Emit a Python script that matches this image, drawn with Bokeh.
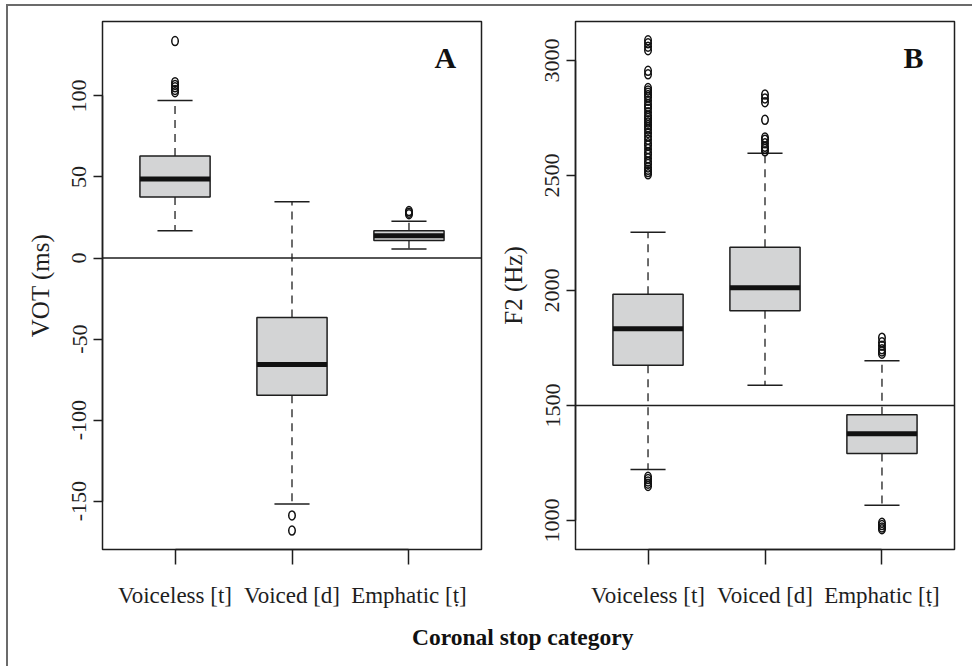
import numpy as np
from bokeh.plotting import figure
from bokeh.models import Range1d, FixedTicker, Span, Label, Div
from bokeh.layouts import row, column
from bokeh.embed import file_html
from bokeh.resources import INLINE

# ---------------- data ----------------
categories = ["Voiceless [t]", "Voiced [d]", "Emphatic [\u1e6d]"]

# Panel A: VOT (ms)
vot_lower_whisker = [16.8, -151.8, 5.6]
vot_q1 = [37.6, -84.7, 10.8]
vot_median = [48.7, -65.7, 13.7]
vot_q3 = [62.9, -36.7, 16.8]
vot_upper_whisker = [97.1, 34.7, 22.7]
vot_outliers = [
    [102.3, 103.7, 105.3, 106.8, 108.5, 133.8],
    [-158.8, -168.1],
    [27.0, 28.0, 29.0],
]
vot_ticks = [-150, -100, -50, 0, 50, 100]
vot_reference = 0

# Panel B: F2 (Hz)
f2_lower_whisker = [1221.7, 1588.0, 1066.5]
f2_q1 = [1675.0, 1911.7, 1291.0]
f2_median = [1833.5, 2011.7, 1377.0]
f2_q3 = [1984.0, 2188.0, 1459.6]
f2_upper_whisker = [2253.6, 2597.0, 1694.3]
f2_outliers = [
    [1150, 1160, 1170, 1180, 1190,
     2505, 2515, 2525, 2535, 2550, 2560, 2575, 2590, 2600, 2615, 2630, 2640,
     2655, 2670, 2685, 2700, 2710, 2720, 2730, 2740, 2750, 2760, 2775, 2790,
     2800, 2810, 2825, 2840, 2850, 2860, 2870, 2880, 2940, 2955,
     3045, 3060, 3075, 3088],
    [2605, 2615, 2625, 2640, 2655, 2665, 2742, 2819, 2835, 2852],
    [962, 970, 980, 990, 1725, 1735, 1745, 1760, 1775, 1795],
]
f2_ticks = [1000, 1500, 2000, 2500, 3000]
f2_reference = 1500

SERIF = "Liberation Serif"
INK = "#1e1e1e"


def make_panel(lo, q1, med, q3, hi, outliers, ticks, yrange, ref, ylabel,
               letter, letter_pos, width, border_left, border_right):
    pos = np.arange(1, len(categories) + 1, dtype=float)
    p = figure(width=width, height=614, output_backend="svg", toolbar_location=None,
               x_range=Range1d(0.38, 3.62), y_range=Range1d(*yrange),
               min_border_left=border_left, min_border_right=border_right,
               min_border_top=15, min_border_bottom=71)
    p.grid.visible = False
    p.outline_line_color = INK
    p.outline_line_width = 1.5
    p.background_fill_color = "white"
    p.border_fill_color = "white"

    half = 0.3
    # whiskers
    p.segment(x0=pos, x1=pos, y0=q3, y1=hi, line_color=INK, line_width=1.3, line_dash="8 6")
    p.segment(x0=pos, x1=pos, y0=q1, y1=lo, line_color=INK, line_width=1.3, line_dash="8 6")
    # staples
    p.segment(x0=pos - half / 2, x1=pos + half / 2, y0=hi, y1=hi, line_color=INK, line_width=1.5)
    p.segment(x0=pos - half / 2, x1=pos + half / 2, y0=lo, y1=lo, line_color=INK, line_width=1.5)
    # boxes
    p.quad(left=pos - half, right=pos + half, bottom=q1, top=q3,
           fill_color="#d3d4d5", line_color=INK, line_width=1.5)
    # medians
    p.segment(x0=pos - half, x1=pos + half, y0=med, y1=med, line_color="#111111", line_width=5)
    # outliers
    ox, oy = [], []
    for i, vals in enumerate(outliers):
        ox += [pos[i]] * len(vals)
        oy += list(vals)
    p.ellipse(x=ox, y=oy, width=6.5, height=9, width_units="screen", height_units="screen",
              fill_color=None, line_color="#111111", line_width=1.5)
    # reference line
    p.add_layout(Span(location=ref, dimension="width", line_color=INK, line_width=1.5))

    # axes
    p.xaxis.ticker = FixedTicker(ticks=list(pos))
    p.xaxis.major_label_overrides = {float(v): c for v, c in zip(pos, categories)}
    p.xaxis.bounds = (pos[0], pos[-1])
    p.xaxis.major_tick_out = 15
    p.xaxis.major_tick_in = 0
    p.xaxis.minor_tick_line_color = None
    p.xaxis.major_label_standoff = 18
    p.xaxis.major_label_text_font = SERIF
    p.xaxis.major_label_text_font_size = "23px"
    p.xaxis.major_label_text_color = INK

    p.yaxis.ticker = FixedTicker(ticks=ticks)
    p.yaxis.major_label_overrides = {t: str(t) for t in ticks}
    p.yaxis.bounds = (ticks[0], ticks[-1])
    p.yaxis.major_tick_out = 9
    p.yaxis.major_tick_in = 0
    p.yaxis.minor_tick_line_color = None
    p.yaxis.major_label_orientation = "vertical"
    p.yaxis.major_label_standoff = 7
    p.yaxis.major_label_text_font = SERIF
    p.yaxis.major_label_text_font_size = "22px"
    p.yaxis.major_label_text_color = INK
    p.yaxis.axis_label = ylabel
    p.yaxis.axis_label_text_font = SERIF
    p.yaxis.axis_label_text_font_style = "normal"
    p.yaxis.axis_label_text_font_size = "25px"
    p.yaxis.axis_label_text_color = INK
    p.yaxis.axis_label_standoff = 16

    for ax in (p.xaxis, p.yaxis):
        ax.axis_line_color = INK
        ax.axis_line_width = 1.5
        ax.major_tick_line_color = INK
        ax.major_tick_line_width = 1.5

    p.add_layout(Label(x=letter_pos[0], y=letter_pos[1], text=letter, text_font=SERIF,
                       text_font_style="bold", text_font_size="30px", text_color="#111111",
                       text_align="center", text_baseline="middle"))
    return p


pA = make_panel(vot_lower_whisker, vot_q1, vot_median, vot_q3, vot_upper_whisker,
                vot_outliers, vot_ticks, (-179.8, 145.9), vot_reference, "VOT (ms)",
                "A", (3.31, 124), width=478, border_left=94, border_right=5)
pB = make_panel(f2_lower_whisker, f2_q1, f2_median, f2_q3, f2_upper_whisker,
                f2_outliers, f2_ticks, (873.9, 3169.6), f2_reference, "F2 (Hz)",
                "B", (3.27, 3013), width=486, border_left=89, border_right=18)

FRAME = "#6b6b6b"
top_spacer = Div(text="", width=972, height=4, margin=0)
left_spacer = Div(text="", width=6, height=662, margin=0)
left_line = Div(text="", width=2, height=662, margin=0, styles={"background-color": FRAME})
top_line = Div(text="", width=964, height=2, margin=0, styles={"background-color": FRAME})
title = Div(
    text=('<div style="margin-left:404px; padding-top:6px; white-space:nowrap; '
          "font-family:'Liberation Serif'; font-size:23.5px; font-weight:bold; "
          'line-height:1; color:#111">Coronal stop category</div>'),
    width=964, height=46, margin=0)

inner = column(top_line, row(pA, pB, spacing=0), title, spacing=0)
root = column(top_spacer, row(left_spacer, left_line, inner, spacing=0), spacing=0)

open("out.html", "w").write(file_html(root, INLINE))
